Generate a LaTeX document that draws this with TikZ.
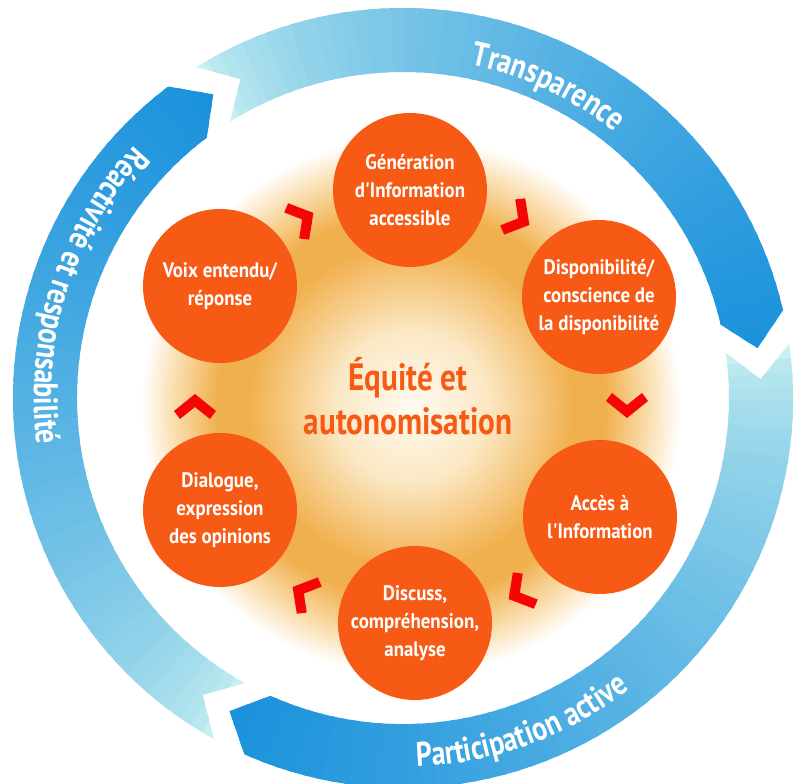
\documentclass[tikz,border=0pt]{standalone}
\usepackage{fontspec}
\newfontfamily\condfont{PT Sans}[FakeStretch=0.82]
\newfontfamily\stagefont{PT Sans}[FakeStretch=0.9]
\usetikzlibrary{calc,decorations.text}
\definecolor{stageorange}{RGB}{246,90,20}
\definecolor{chevred}{RGB}{245,5,5}
\definecolor{ringlight}{RGB}{200,240,240}
\definecolor{ringdark}{RGB}{25,145,220}
\definecolor{glowa}{RGB}{255,250,240}
\definecolor{glowb}{RGB}{251,232,196}
\definecolor{glowc}{RGB}{241,176,78}
\definecolor{glowd}{RGB}{250,222,175}
\pgfdeclareradialshading{glow}{\pgfpoint{0bp}{0bp}}{color(0bp)=(glowa); color(7bp)=(glowb); color(15bp)=(glowc); color(18bp)=(glowc); color(22bp)=(glowd); color(25bp)=(white); color(50bp)=(white)}
\newcommand{\Ro}{390}
\newcommand{\Ri}{326}
\newcommand{\Rm}{358}
\newcommand{\ringtext}{\condfont\bfseries\fontsize{34}{34}\selectfont\color{white}}
% one blue arrow of the outer ring: tail angle, head angle (clockwise)
\newcommand{\ringarrow}[2]{%
  \begin{scope}
    \clip ({#1}:\Ro) arc[start angle={#1}, end angle={#2}, radius=\Ro] -- ({#2-5}:\Rm) -- ({#2}:\Ri)
      arc[start angle={#2}, end angle={#1}, radius=\Ri] -- ({#1-5}:\Rm) -- cycle;
    \foreach \k in {0,...,59} {
      \pgfmathsetmacro{\a}{#1-(#1-#2+5)*\k/60}
      \pgfmathtruncatemacro{\p}{100*(\k/59)^0.6}
      \fill[ringdark!\p!ringlight] (0,0) -- (\a:400) arc[start angle=\a, end angle=\a-(#1-#2+5)/60-0.8, radius=400] -- cycle;
    }
  \end{scope}}
\newcommand{\chev}[1]{\fill[chevred, shift={($(H)+(#1:216)$)}, rotate=#1-90] (12,0) -- (-5,21) -- (-13,15) -- (-1,0) -- (-13,-15) -- (-5,-21) -- cycle;}
\begin{document}
\begin{tikzpicture}[x=1pt,y=1pt]
  \tikzstyle{stage}=[circle,fill=stageorange,minimum size=154pt,inner sep=0pt,align=center,text=white,font=\stagefont\bfseries\fontsize{21}{28}\selectfont]
  \useasboundingbox (-403,-386) rectangle (392,398);
  \coordinate (H) at (8,-8);
  \shade[shading=glow] (H) circle (270);

  \foreach \a in {60,0,-60,-120,180,120} \chev{\a};

  \node[stage] (P_1) at (7,208)     {Génération\\d'Information\\accessible};
  \node[stage] (P_2) at (196,101)   {Disponibilité/\\conscience de\\la disponibilité};
  \node[stage] (P_3) at (197,-119)  {Accès à\\l'Information};
  \node[stage] (P_4) at (12,-225)   {Discuss,\\compréhension,\\analyse};
  \node[stage] (P_5) at (-183,-112) {Dialogue,\\expression\\des opinions};
  \node[stage] (P_6) at (-183,112)  {Voix entendu/\\réponse};

  \node[align=center,text=stageorange,font=\condfont\bfseries\fontsize{38}{44}\selectfont] (eq) at (5,2) {Équité et\\autonomisation};

  \ringarrow{122}{13}
  \ringarrow{8}{-114}
  \ringarrow{241}{127}

  \path[decorate,decoration={text along path,text align=center,text={|\ringtext|Transparence}}]
    (100:340) arc[start angle=100,end angle=30,radius=340];
  \path[decorate,decoration={text along path,text align=center,text={|\ringtext|Participation active}}]
    (-106:369) arc[start angle=-106,end angle=-34,radius=369];
  \path[decorate,decoration={text along path,text align=center,text={|\ringtext|Réactivité et responsabilité}}]
    (118:369) arc[start angle=118,end angle=206,radius=369];
\end{tikzpicture}
\end{document}
